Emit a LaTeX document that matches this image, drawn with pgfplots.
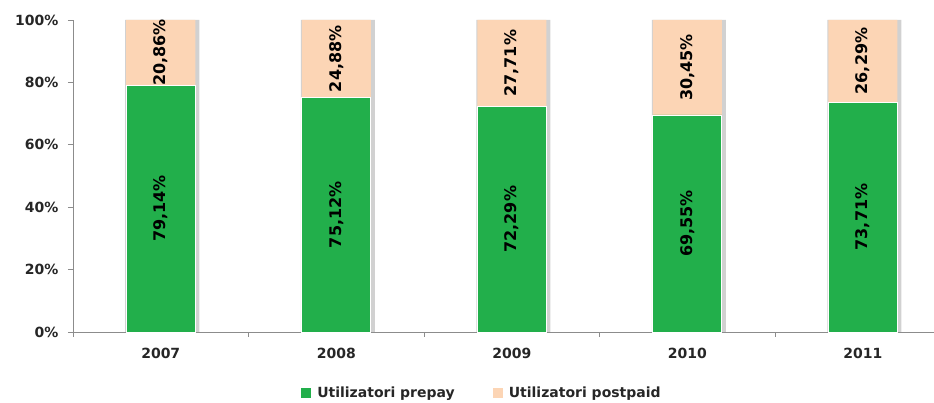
\documentclass[border=0pt]{standalone}
\usepackage{pgfplots}
\pgfplotsset{compat=1.18}
\usepackage{pgfplotstable}
\usepackage{fontspec}
\setmainfont{DejaVu Sans}
\definecolor{prepay}{HTML}{22AF4B}
\definecolor{postpaid}{HTML}{FCD5B5}
\definecolor{axisgray}{HTML}{8C8C8C}
\pgfplotstableread{
x year prepay postpaid
0 2007 79.14 20.86
1 2008 75.12 24.88
2 2009 72.29 27.71
3 2010 69.55 30.45
4 2011 73.71 26.29
}\data
\begin{document}
\begin{tikzpicture}
\begin{axis}[
  /pgf/number format/assume math mode=true,
  scale only axis, width=861pt, height=312pt,
  at={(0,0)}, anchor=south west,
  xmin=-0.5, xmax=4.406, ymin=0, ymax=100,
  axis x line*=bottom, axis y line*=left,
  axis line style={axisgray, line width=0.8pt},
  tick style={axisgray, line width=0.8pt},
  tick align=outside,
  major tick length=5pt, minor tick length=5pt,
  ytick={0,20,...,100},
  yticklabel={\pgfmathprintnumber[assume math mode=true]{\tick}\%},
  xtick={0,...,4},
  xticklabels={2007,2008,2009,2010,2011},
  major x tick style={draw=none},
  minor xtick={-0.5,0.5,1.5,2.5,3.5},
  tick label style={font=\bfseries\fontsize{14}{14}\selectfont, text=black!85},
  x tick label style={yshift=-8pt},
  y tick label style={xshift=-6pt},
  clip=false,
  legend style={at={(0.475,-0.1955)}, anchor=center, draw=none, fill=none,
    legend columns=2, font=\bfseries\fontsize{14}{14}\selectfont, text=black!85,
    /tikz/every odd column/.append style={column sep=4pt},
    /tikz/every even column/.append style={column sep=36pt}},
  legend image code/.code={\path[#1] (0pt,-5pt) rectangle (10pt,5pt);},
]
% shadow
\addplot[forget plot, ybar, bar width=74pt, bar shift=1.5pt, fill=black!18, draw=none]
  table[x=x, y expr=\thisrow{prepay}+\thisrow{postpaid}]{\data};
% postpaid (top segment)
\addplot[forget plot, ybar, bar width=69pt, bar shift=0pt, fill=postpaid, draw=none]
  table[x=x, y expr=\thisrow{prepay}+\thisrow{postpaid}]{\data};
% prepay
\addplot[forget plot, ybar, bar width=69pt, bar shift=0pt, fill=prepay, draw=white, line width=0.6pt]
  table[x=x, y=prepay]{\data};
% labels
\addplot[forget plot, draw=none, mark=none, point meta=\thisrow{prepay},
  nodes near coords={\pgfmathprintnumber[fixed,fixed zerofill,precision=2,use comma,assume math mode=true]{\pgfplotspointmeta}\%},
  every node near coord/.append style={rotate=90, anchor=center, font=\bfseries\fontsize{16}{16}\selectfont, text=black}]
  table[x=x, y expr=\thisrow{prepay}/2]{\data};
\addplot[forget plot, draw=none, mark=none, point meta=\thisrow{postpaid},
  nodes near coords={\pgfmathprintnumber[fixed,fixed zerofill,precision=2,use comma,assume math mode=true]{\pgfplotspointmeta}\%},
  every node near coord/.append style={rotate=90, anchor=center, font=\bfseries\fontsize{16}{16}\selectfont, text=black}]
  table[x=x, y expr=\thisrow{prepay}+\thisrow{postpaid}/2]{\data};
\addlegendimage{fill=prepay, draw=none}
\addlegendentry{Utilizatori prepay}
\addlegendimage{fill=postpaid, draw=none}
\addlegendentry{Utilizatori postpaid}
\end{axis}
\pgfresetboundingbox
\path[use as bounding box] (-73pt,-71pt) rectangle (861pt,332pt);
\end{tikzpicture}
\end{document}
